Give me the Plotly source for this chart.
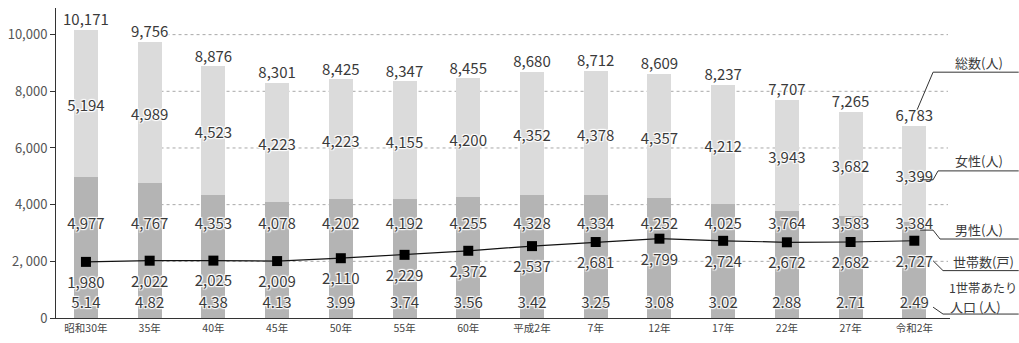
import plotly.graph_objects as go

# ---------------- data ----------------
years = ["昭和30年", "35年", "40年", "45年", "50年", "55年", "60年",
         "平成2年", "7年", "12年", "17年", "22年", "27年", "令和2年"]
male = [4977, 4767, 4353, 4078, 4202, 4192, 4255, 4328, 4334, 4252, 4025, 3764, 3583, 3384]
female = [5194, 4989, 4523, 4223, 4223, 4155, 4200, 4352, 4378, 4357, 4212, 3943, 3682, 3399]
total = [10171, 9756, 8876, 8301, 8425, 8347, 8455, 8680, 8712, 8609, 8237, 7707, 7265, 6783]
households = [1980, 2022, 2025, 2009, 2110, 2229, 2372, 2537, 2681, 2799, 2724, 2672, 2682, 2727]
per_household = [5.14, 4.82, 4.38, 4.13, 3.99, 3.74, 3.56, 3.42, 3.25, 3.08, 3.02, 2.88, 2.71, 2.49]
y_tick_vals = [0, 2000, 4000, 6000, 8000, 10000]
y_tick_text = ["0", "2, 000", "4,000", "6,000", "8,000", "10,000"]
legend_labels = ["総数(人)", "女性(人)", "男性(人)", "世帯数(戸)", "1世帯あたり", "人口 (人)"]

# ---------------- layout helpers ----------------
W, H = 1019, 343
L, R, T, B = 52, 69, 8, 21
PW, PH = W - L - R, H - T - B
FONT = "Noto Sans CJK JP, Noto Sans, sans-serif"
TXT = "#3a3a3a"
HALO = "1px 1px 1px #fff, -1px -1px 1px #fff, 1px -1px 1px #fff, -1px 1px 1px #fff, 0 0 2px #fff"


def px(x):
    return (x - L) / PW


def py(y):
    return (H - B - y) / PH


n = len(years)
fig = go.Figure()

fig.add_trace(go.Bar(x=years, y=male, width=0.375, marker=dict(color="#b4b4b4", line=dict(width=0)),
                     hoverinfo="skip", showlegend=False))
fig.add_trace(go.Bar(x=years, y=female, width=0.375, marker=dict(color="#dbdbdb", line=dict(width=0)),
                     hoverinfo="skip", showlegend=False))
fig.add_trace(go.Scatter(x=years, y=households, mode="lines+markers",
                         line=dict(color="#111", width=1.2),
                         marker=dict(symbol="square", size=10, color="#000"),
                         hoverinfo="skip", showlegend=False))


def text_trace(yvals, labels):
    fig.add_trace(go.Scatter(x=years, y=yvals, mode="text", text=labels,
                             textposition="middle center",
                             textfont=dict(family=FONT, size=15, color=TXT, shadow=HALO),
                             hoverinfo="skip", showlegend=False, cliponaxis=False))


text_trace([t + 300 for t in total], [f"{t:,}" for t in total])
text_trace([m + f / 2 - 140 for m, f in zip(male, female)], [f"{f:,}" for f in female])
text_trace([3280] * n, [f"{m:,}" for m in male])
text_trace([h - 780 for h in households], [f"{h:,}" for h in households])
text_trace([480] * n, [f"{v:.2f}" for v in per_household])

shapes = []
for v in y_tick_vals[1:]:
    shapes.append(dict(type="line", xref="paper", yref="y", x0=px(157), x1=px(948), y0=v, y1=v,
                       line=dict(color="#a8a8a8", width=1, dash="dot"), layer="below"))

leaders = [
    [(917, 111), (933, 73), (1019, 73)],
    [(920, 182), (933, 182), (938, 173), (1019, 173)],
    [(920, 233), (933, 233), (940, 242), (1019, 242)],
    [(933, 264), (943, 274), (1019, 274)],
    [(933, 311), (943, 318), (1019, 318)],
]
for pts in leaders:
    path = "M " + " L ".join(f"{px(x):.5f},{py(y):.5f}" for x, y in pts)
    shapes.append(dict(type="path", xref="paper", yref="paper", path=path,
                       line=dict(color="#333", width=1), layer="above"))

ann_pos = [(953, 63, 13), (953, 162, 13), (953, 232, 13), (951, 265, 13), (947, 292, 12.3), (948, 310, 13)]
annotations = []
for lab, (x, y, s) in zip(legend_labels, ann_pos):
    annotations.append(dict(text=lab, xref="paper", yref="paper", x=px(x), y=py(y),
                            xanchor="left", yanchor="middle", showarrow=False,
                            font=dict(family=FONT, size=s, color=TXT)))

fig.update_layout(
    width=W, height=H, margin=dict(l=L, r=R, t=T, b=B),
    barmode="stack", plot_bgcolor="white", paper_bgcolor="white",
    font=dict(family=FONT, color=TXT),
    shapes=shapes, annotations=annotations, showlegend=False,
    xaxis=dict(type="category", range=[-0.47, 13.56], showgrid=False, zeroline=False,
               showline=True, linecolor="#333", linewidth=1, ticks="",
               tickfont=dict(size=10.5, color="#444", family=FONT), fixedrange=True),
    yaxis=dict(range=[0, 10940], tickvals=y_tick_vals, ticktext=y_tick_text,
               showgrid=False, zeroline=False, showline=True, linecolor="#333", linewidth=1,
               ticks="outside", ticklen=5, tickcolor="#333",
               tickfont=dict(size=13, color="#555", family=FONT), fixedrange=True),
)

fig.write_html("out.html")
